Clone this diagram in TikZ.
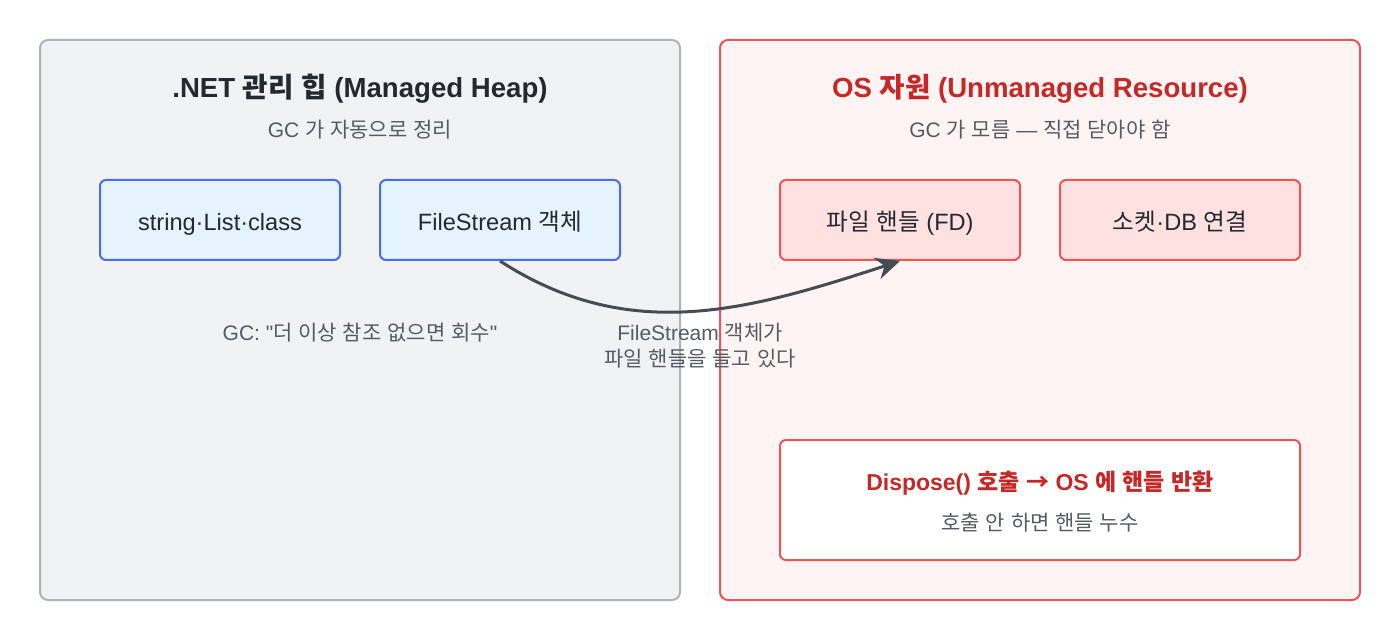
\documentclass[tikz,border=0pt]{standalone}
\usepackage{fontspec}
\setmainfont{Liberation Sans}[Ligatures=TeXOff]
\newfontfamily\krfont{Noto Sans CJK KR}[Ligatures=TeXOff]
% hangul syllables (and the arrow) switch to the korean family
\XeTeXinterchartokenstate=1
\newXeTeXintercharclass\hangulclass
\count255="AC00
\loop\ifnum\count255<"D7A4
  \XeTeXcharclass\count255=\hangulclass
  \advance\count255 by 1
\repeat
\XeTeXcharclass"2192=\hangulclass
\XeTeXinterchartoks 0 \hangulclass = {\begingroup\krfont}
\XeTeXinterchartoks 4095 \hangulclass = {\begingroup\krfont}
\XeTeXinterchartoks \hangulclass 0 = {\endgroup}
\XeTeXinterchartoks \hangulclass 4095 = {\endgroup}
\usetikzlibrary{arrows.meta,positioning}
\definecolor{heapfill}{HTML}{F1F2F4}
\definecolor{heapline}{HTML}{ADB3BA}
\definecolor{objfill}{HTML}{E5F3FD}
\definecolor{objline}{HTML}{4B6BEA}
\definecolor{osfill}{HTML}{FFF4F4}
\definecolor{osline}{HTML}{F05454}
\definecolor{resfill}{HTML}{FFE1E1}
\definecolor{osred}{HTML}{C62828}
\definecolor{ink}{HTML}{24292F}
\definecolor{note}{HTML}{555B63}
\definecolor{wire}{HTML}{474C53}
\tikzset{
	panel/.style={draw, line width=1pt, rounded corners=4pt},
	obj/.style={draw=objline, fill=objfill, line width=1pt, rounded corners=3pt,
		minimum width=120pt, minimum height=40pt, text height=11pt, text depth=0pt,
		font=\fontsize{11.8}{14}\selectfont, text=ink},
	res/.style={obj, draw=osline, fill=resfill},
	title/.style={font=\fontsize{13.8}{16}\selectfont\bfseries, text=ink},
	sub/.style={font=\fontsize{10.5}{13}\selectfont, text=note},
	flow/.style={draw=wire, line width=1.5pt, -{Stealth[length=12pt,width=11pt]}}
}
\begin{document}
\begin{tikzpicture}[x=0.5pt, y=-0.5pt]
      \useasboundingbox (0,0) rectangle (1400,640);
      \draw[panel, draw=heapline, fill=heapfill] (40,40) rectangle (680,600);
      \draw[panel, draw=osline, fill=osfill] (720,40) rectangle (1360,600);
      % managed heap
      \node[title] (heap) at (360,89) {.NET 관리 힙 (Managed Heap)};
      \node[sub] (heapsub) at (360,130) {GC 가 자동으로 정리};
      \node[obj] (str) at (220,220) {string·List·class};
      \node[obj] (fs) at (500,220) {FileStream 객체};
      \node[sub] (gc) at (360,333) {GC: "더 이상 참조 없으면 회수"};
      % unmanaged
      \node[title, text=osred] (os) at (1040,89) {OS 자원 (Unmanaged Resource)};
      \node[sub] (ossub) at (1040,130) {GC 가 모름 — 직접 닫아야 함};
      \node[res] (fd) at (900,220) {파일 핸들 (FD)};
      \node[res] (sock) at (1180,220) {소켓·DB 연결};
      \node[draw=osline, fill=white, line width=1pt, rounded corners=3pt,
            minimum width=260pt, minimum height=60pt] (disp) at (1040,500) {};
      \node[title, text=osred, font=\fontsize{11.5}{13}\selectfont\bfseries] (dtop) at (1040,483) {Dispose() 호출 → OS 에 핸들 반환};
      \node[sub] (dbot) at (1040,523) {호출 안 하면 핸들 누수};
      \draw[flow] (fs.south) to[out=-33, in=198] (fd.south);
      \node[sub, align=center] (hold) at (700,346) {FileStream 객체가\\파일 핸들을 들고 있다};
\end{tikzpicture}
\end{document}
